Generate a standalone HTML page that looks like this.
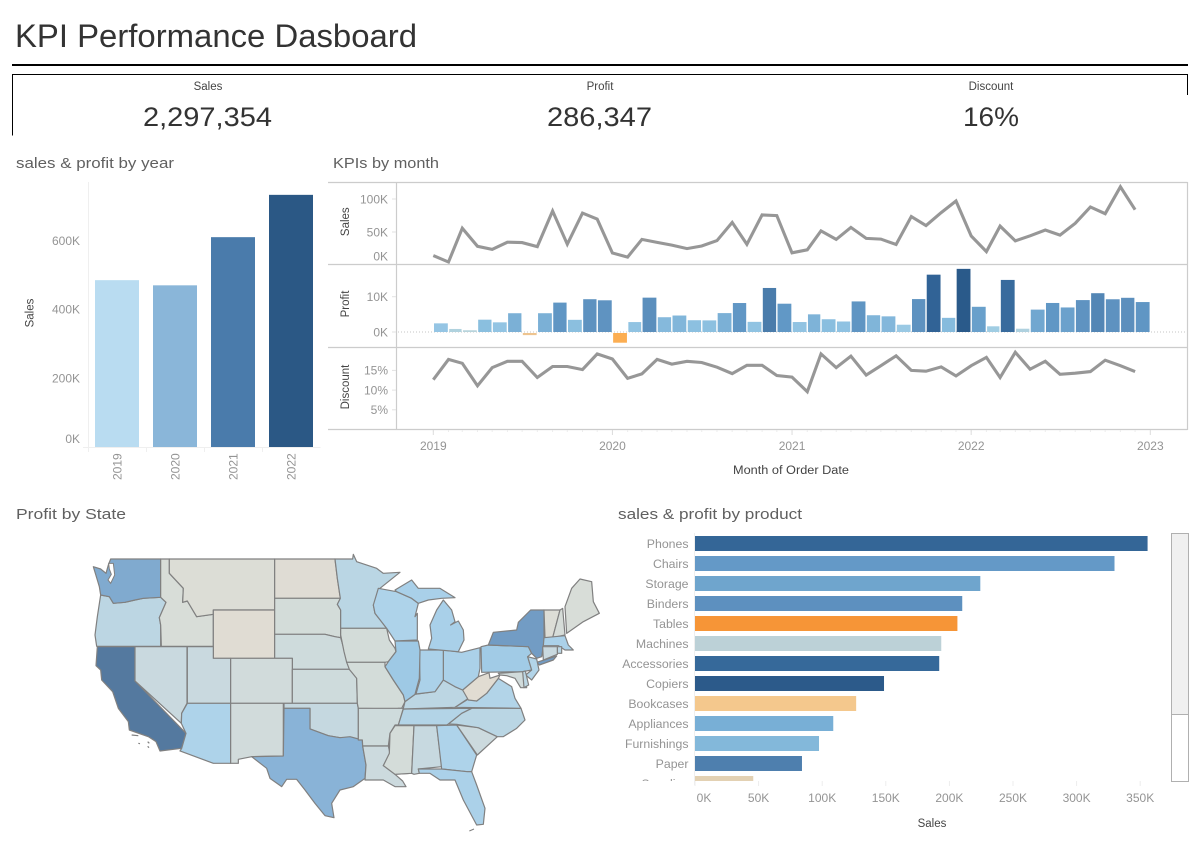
<!DOCTYPE html>
<html lang="en">
<head>
<meta charset="utf-8">
<title>KPI Performance Dasboard</title>
<style>
html,body{margin:0;padding:0;background:#fff;}
svg{display:block;font-family:"Liberation Sans",sans-serif;}
</style>
</head>
<body>
<svg id="dash" xmlns="http://www.w3.org/2000/svg" width="1199" height="849" viewBox="0 0 1199 849">
  <rect x="0" y="0" width="1199" height="849" fill="#fff"/>
  <text x="15" y="47" font-size="32" fill="#333" textLength="402" lengthAdjust="spacingAndGlyphs">KPI Performance Dasboard</text>
  <rect x="12" y="64" width="1176" height="2" fill="#000"/>
  <path d="M12.5 135.5V74.5H1187.5V95" fill="none" stroke="#000" stroke-width="1"/>
  <text x="208" y="90" font-size="11.5" fill="#444" text-anchor="middle">Sales</text>
  <text x="143" y="126" font-size="27" fill="#333" textLength="129" lengthAdjust="spacingAndGlyphs">2,297,354</text>
  <text x="600" y="90" font-size="11.5" fill="#444" text-anchor="middle">Profit</text>
  <text x="547" y="126" font-size="27" fill="#333" textLength="105" lengthAdjust="spacingAndGlyphs">286,347</text>
  <text x="991" y="90" font-size="11.5" fill="#444" text-anchor="middle">Discount</text>
  <text x="963" y="126" font-size="27" fill="#333" textLength="56" lengthAdjust="spacingAndGlyphs">16%</text>

  <text x="16" y="168" font-size="15" fill="#606060" textLength="158" lengthAdjust="spacingAndGlyphs">sales &amp; profit by year</text>
  <text x="333" y="168" font-size="15" fill="#606060" textLength="106" lengthAdjust="spacingAndGlyphs">KPIs by month</text>
  <text x="16" y="519" font-size="15" fill="#606060" textLength="110" lengthAdjust="spacingAndGlyphs">Profit by State</text>
  <text x="618" y="519" font-size="15" fill="#606060" textLength="184" lengthAdjust="spacingAndGlyphs">sales &amp; profit by product</text>

  <g id="year-chart"></g>
  <g id="month-chart"></g>
  <g id="map-chart"></g>
  <defs><clipPath id="product-clip"><rect x="610" y="530" width="555" height="251"/></clipPath></defs>
  <g id="product-chart"></g>

  <rect x="1171.5" y="533.5" width="17" height="248" fill="#fff" stroke="#b0b0b0"/>
  <rect x="1171.5" y="533.5" width="17" height="181" fill="#f0f0f0" stroke="#b0b0b0"/>
</svg>

<script>
// ---------- year chart data ----------
const yearCategories = ['2019','2020','2021','2022'];
const yearSales = [485000,470000,610000,733000];
const yearProfit = [49543,61618,81795,93439];
const yearTicks = [0,200000,400000,600000];
const yearTickLabels = ['0K','200K','400K','600K'];

// ---------- monthly chart data ----------
const months = ['2019-01','2019-02','2019-03','2019-04','2019-05','2019-06','2019-07','2019-08','2019-09','2019-10','2019-11','2019-12',
  '2020-01','2020-02','2020-03','2020-04','2020-05','2020-06','2020-07','2020-08','2020-09','2020-10','2020-11','2020-12',
  '2021-01','2021-02','2021-03','2021-04','2021-05','2021-06','2021-07','2021-08','2021-09','2021-10','2021-11','2021-12',
  '2022-01','2022-02','2022-03','2022-04','2022-05','2022-06','2022-07','2022-08','2022-09','2022-10','2022-11','2022-12'];
const monthSales = [14236,4520,55691,28295,23648,34595,33946,27909,81777,31453,78628,69545,
  18174,11951,38726,34195,30132,24797,28765,36898,64595,31404,75972,74919,
  18542,22979,51716,38750,56987,40344,39262,31115,73410,59688,79412,96999,
  43971,20301,58872,36522,44261,52982,45264,63121,87867,77777,118448,83829];
const monthProfit = [2450,862,499,3489,2739,5317,-600,5318,8328,3448,9292,8983,
  -2750,2813,9732,4187,4668,3336,3289,5355,8210,2877,12474,8016,
  2824,5004,3612,2978,8662,4750,4433,2063,9328,16243,4011,17885,
  7140,1613,14752,933,6342,8223,6953,9041,10991,9275,9690,8483];
const monthDiscount = [12.65,17.8,16.8,11.1,15.7,17.3,17.3,13.2,16.0,16.0,15.2,19.2,
  17.9,13.0,14.1,17.8,16.6,17.3,17.0,15.8,14.2,16.3,16.3,13.7,
  13.3,9.6,19.2,15.7,18.6,13.8,16.2,18.7,15.0,14.8,15.9,13.6,
  16.2,18.3,13.2,19.6,15.3,17.3,14.0,14.3,14.7,17.6,16.2,14.7];
const salesTicks = [0,50000,100000];
const salesTickLabels = ['0K','50K','100K'];
const profitTicks = [0,10000];
const profitTickLabels = ['0K','10K'];
const discountTicks = [5,10,15];
const discountTickLabels = ['5%','10%','15%'];
const timeTickYears = ['2019','2020','2021','2022','2023'];

// ---------- product chart data ----------
const productCategories = ['Phones','Chairs','Storage','Binders','Tables','Machines','Accessories','Copiers','Bookcases','Appliances','Furnishings','Paper','Supplies'];
const productSales = [355800,329800,224300,210100,206300,193600,192000,148600,126700,108700,97500,84100,45800];
const productProfit = [44516,26590,21279,30221,-17725,3385,41937,55618,-3473,18138,13059,34054,-1189];
const productTicks = [0,50000,100000,150000,200000,250000,300000,350000];
const productTickLabels = ['0K','50K','100K','150K','200K','250K','300K','350K'];

// ---------- map data ----------
const stateProfit = {WA:33000,OR:6000,CA:76000,NV:3000,ID:600,MT:200,WY:-300,ND:-200,SD:1000,NE:2000,UT:3000,CO:1500,AZ:10000,NM:1500,KS:2000,OK:4000,TX:25000,
  MN:6500,IA:1000,MO:1000,AR:2000,LA:2500,MS:900,AL:3500,GA:10000,FL:11000,SC:2500,NC:6500,TN:8500,KY:6000,VA:9000,WV:-500,OH:11000,IN:11000,IL:15000,WI:10000,MI:11500,PA:14000,NY:45000,NJ:9000,MD:1500,DE:6000,VT:200,NH:700,ME:600,MA:11000,RI:6000,CT:3000};
const westShapes = {
 OR:'62,150 88,155 100,175 135,172 165,165 190,160 242,157 258,172 238,218 242,240 242,304 50,304 45,270 52,215',
 WA:'92,42 242,42 242,157 190,160 165,165 135,172 100,175 88,155 62,150 58,125 52,105 40,65 62,72 78,85 85,60',
 CA:'52,305 165,305 165,408 318,565 305,610 240,618 228,590 205,575 148,555 145,530 115,490 98,440 65,405 62,375 48,362',
 NV:'165,305 321,305 321,475 305,505 304,535 165,408',
 ID:'242,42 268,42 268,85 310,130 308,172 322,168 350,215 400,208 400,304 244,304 242,240 238,218 258,172 242,157',
 MT:'268,42 584,42 584,195 400,195 400,208 350,215 322,168 308,172 310,130 268,85',
 WY:'400,195 584,195 584,340 400,340',
 ND:'584,42 765,42 772,100 781,160 584,160',
 SD:'584,160 781,160 772,178 782,195 782,278 765,275 735,268 584,268',
 NE:'584,268 735,268 765,275 782,278 800,340 808,373 637,373 637,340 584,340',
 UT:'322,305 400,305 400,340 452,340 452,475 322,475',
 CO:'452,340 637,340 637,475 452,475',
 AZ:'322,475 452,475 452,655 400,655 300,618 305,610 318,565 304,535 305,505',
 NM:'452,475 610,475 610,633 515,635 475,643 475,655 452,655',
 KS:'637,373 808,373 830,395 832,475 637,475',
 OK:'612,475 832,475 835,490 835,590 810,578 780,578 745,572 690,552 690,490 612,490',
 TX:'612,490 690,490 690,552 745,572 780,578 810,575 847,585 848,603 858,660 855,700 820,725 780,735 755,775 762,818 735,812 705,775 675,735 650,703 620,703 605,725 570,700 560,670 515,635 610,633'
};
const eastShapes = {
 MN:'-15,42 38,42 40,28 50,50 110,70 130,85 180,82 120,130 115,155 100,180 105,205 140,250 2,250 2,195 -8,178 1,160 -8,100',
 IA:'2,250 140,250 148,285 165,310 168,320 145,350 135,352 20,352 12,320 2,270',
 MO:'20,352 135,352 135,365 160,405 190,450 195,470 185,490 175,490 170,492 55,490 52,475 50,400 28,373',
 AR:'55,490 190,490 175,540 165,540 150,565 145,603 68,603 67,585 55,585',
 LA:'68,603 145,603 150,625 130,662 215,660 215,685 165,688 188,708 198,725 165,725 130,705 75,705 78,660',
 MS:'165,542 222,542 215,685 165,688 130,662 148,625 150,565',
 AL:'222,542 290,542 305,665 235,672 238,685 222,688 215,685',
 GA:'290,542 350,540 410,630 395,680 382,680 305,672',
 FL:'235,672 305,672 382,680 395,680 410,720 435,790 430,838 410,840 370,765 345,705 300,705 270,685 238,685',
 SC:'350,540 415,548 472,575 412,630',
 NC:'325,537 365,505 395,490 543,490 555,525 530,550 490,575 472,575 415,548 350,538',
 TN:'175,540 190,492 395,490 365,505 325,537 320,540',
 KY:'190,490 195,470 225,448 285,440 310,405 345,425 368,435 385,460 345,487 190,492',
 VA:'345,487 385,462 410,468 440,445 475,400 515,425 525,460 543,490',
 WV:'368,435 415,395 447,383 450,400 480,390 475,400 440,445 410,468 385,465',
 OH:'310,315 365,322 420,308 420,370 415,395 368,435 345,425 310,405',
 IN:'238,315 310,315 310,405 285,440 228,447 240,405',
 IL:'165,288 235,288 240,315 238,400 225,448 195,470 190,450 160,405 135,365 145,350 168,320',
 WI:'115,130 170,140 215,160 235,175 225,215 232,205 232,285 165,288 140,250 105,205 100,180',
 MI:'165,135 215,105 235,130 270,130 300,130 345,158 305,160 265,165 235,175 215,160 170,140',
 MI2:'265,312 275,280 270,240 290,195 310,165 335,195 345,230 332,240 355,228 370,255 372,285 355,320',
 PA:'423,305 445,300 565,305 575,325 563,335 575,375 548,380 425,382',
 NY:'445,300 460,262 530,255 535,232 572,195 612,195 612,290 605,335 590,340 575,325 565,305',
 NY2:'590,352 650,333 640,345 598,360',
 NJ:'563,335 590,342 597,375 575,405 557,390 575,375',
 MD:'475,385 548,380 560,428 542,428 525,400 500,392 480,390',
 DE:'548,380 556,378 566,420 552,428',
 VT:'612,195 660,195 638,278 615,278',
 NH:'660,195 668,190 675,270 638,278',
 ME:'675,185 695,130 720,102 755,110 760,170 778,205 730,230 680,265',
 MA:'612,278 675,272 685,300 700,315 675,315 655,302 610,302',
 RI:'652,305 665,305 665,325 652,325',
 CT:'608,305 652,305 652,328 610,345'
};
const stateNames = {WA:'washington',OR:'oregon',CA:'california',NV:'nevada',ID:'idaho',MT:'montana',WY:'wyoming',ND:'north-dakota',SD:'south-dakota',NE:'nebraska',UT:'utah',CO:'colorado',AZ:'arizona',NM:'new-mexico',KS:'kansas',OK:'oklahoma',TX:'texas',
 MN:'minnesota',IA:'iowa',MO:'missouri',AR:'arkansas',LA:'louisiana',MS:'mississippi',AL:'alabama',GA:'georgia',FL:'florida',SC:'south-carolina',NC:'north-carolina',TN:'tennessee',KY:'kentucky',VA:'virginia',WV:'west-virginia',OH:'ohio',IN:'indiana',IL:'illinois',WI:'wisconsin',MI:'michigan',PA:'pennsylvania',NY:'new-york',NJ:'new-jersey',MD:'maryland',DE:'delaware',VT:'vermont',NH:'new-hampshire',ME:'maine',MA:'massachusetts',RI:'rhode-island',CT:'connecticut'};

// ---------- helpers ----------
const NS = 'http://www.w3.org/2000/svg';
function mk(parent, tag, attrs, txt) {
  const el = document.createElementNS(NS, tag);
  for (const k in attrs) el.setAttribute(k, attrs[k]);
  if (txt !== undefined) el.textContent = txt;
  parent.appendChild(el);
  return el;
}
function hex(c){return [parseInt(c.slice(1,3),16),parseInt(c.slice(3,5),16),parseInt(c.slice(5,7),16)];}
function colorScale(stops){
  return function(v){
    if (v <= stops[0][0]) return stops[0][1];
    for (let i=1;i<stops.length;i++){
      if (v <= stops[i][0]){
        const t=(v-stops[i-1][0])/(stops[i][0]-stops[i-1][0]);
        const a=hex(stops[i-1][1]), b=hex(stops[i][1]);
        return 'rgb('+a.map((p,j)=>Math.round(p+(b[j]-p)*t)).join(',')+')';
      }
    }
    return stops[stops.length-1][1];
  };
}
const TICK_COLOR='#949494', AXIS_TITLE='#444';

// ---------- year chart ----------
(function(){
  const g=document.getElementById('year-chart');
  const y=v=>447-v*68.8/200000;
  const yearColor=colorScale([[49543,'#b9dcf1'],[61618,'#8ab6d9'],[81795,'#4a7bab'],[93439,'#2b5885']]);
  const bandX=i=>88.5+58*i;
  const yAxis=mk(g,'line',{x1:88.5,x2:88.5,y1:182,y2:447,stroke:'#efefef'});
  
  
  const xAxis=mk(g,'line',{x1:83,x2:320.5,y1:447.5,y2:447.5,stroke:'#efefef'});
  
  
  yearTicks.forEach((t,i)=>{
    const lab=mk(g,'text',{x:80,y:t===0?443:y(t)+4.3,'font-size':12,fill:TICK_COLOR,'text-anchor':'end'},yearTickLabels[i]);
    
    
  });
  yearCategories.forEach((c,i)=>{
    const bar=mk(g,'rect',{x:bandX(i)+6.5,y:y(yearSales[i]),width:44,height:447-y(yearSales[i]),fill:yearColor(yearProfit[i])});
    
    
    const tick=mk(g,'line',{x1:bandX(i),x2:bandX(i),y1:447,y2:452,stroke:'#efefef'});
    
    
    const cx=bandX(i)+28.5;
    const lab=mk(g,'text',{x:cx+4.3,y:480,'font-size':12,fill:TICK_COLOR,transform:'rotate(-90 '+(cx+4.3)+' 480)'},c);
    
    
  });
  const title=mk(g,'text',{x:33.5,y:313,'font-size':11.5,fill:AXIS_TITLE,'text-anchor':'middle',transform:'rotate(-90 33.5 313)'},'Sales');
  
  
})();

// ---------- monthly chart ----------
(function(){
  const g=document.getElementById('month-chart');
  const t0=Date.UTC(2019,0,1), pxPerMs=(1150.3-433.3)/(Date.UTC(2023,0,1)-t0);
  const xd=ms=>433.3+(ms-t0)*pxPerMs;
  const parse=s=>{const p=s.split('-');return [+p[0],+p[1]-1];};
  const xm=s=>{const p=parse(s);return xd(Date.UTC(p[0],p[1],1));};
  const xnext=s=>{const p=parse(s);return xd(Date.UTC(p[0],p[1]+1,1));};
  const ySales=v=>265-v*33/50000;
  const yProfit=v=>332-v*35.3/10000;
  const yDisc=v=>429.5-v*3.94;
  const profitColor=colorScale([[-2750,'#fcae52'],[-600,'#eec48f'],[500,'#b8d4dc'],[1600,'#a0cde3'],[2500,'#94c5e4'],[3300,'#8cc0e0'],[5000,'#7eb3d8'],[8000,'#6198c6'],[9300,'#5e92c0'],[12474,'#4a7cab'],[14752,'#386b9d'],[16243,'#316396'],[17885,'#2a5a8a']]);

  // frame
  [182.5,264.5,347.5,429.5].forEach(yy=>{
    const l=mk(g,'line',{x1:328,x2:1187.5,y1:yy,y2:yy,stroke:'#cccccc','stroke-width':1.2});
    
    
  });
  const la=mk(g,'line',{x1:396.5,x2:396.5,y1:182,y2:430,stroke:'#cccccc','stroke-width':1.2});
  
  
  const ra=mk(g,'line',{x1:1187.5,x2:1187.5,y1:182,y2:430,stroke:'#cccccc','stroke-width':1.2});
  
  

  // zero reference
  const zero=mk(g,'line',{x1:398,x2:1187,y1:332,y2:332,stroke:'#c4c4c4','stroke-dasharray':'1 2'});
  
  

  // axis ticks + labels
  function yTicks(ticks,labels,scale,prefix,fix){
    ticks.forEach((t,i)=>{
      const yy=scale(t);
      if (prefix!=='sales' || t>0){
        const tk=mk(g,'line',{x1:392,x2:396,y1:yy,y2:yy,stroke:'#e2e2e2'});
        
        
      }
      const ly=(fix && t===0)?fix:yy;
      const lab=mk(g,'text',{x:388,y:ly+4.3,'font-size':12,fill:TICK_COLOR,'text-anchor':'end'},labels[i]);
      
      
    });
  }
  yTicks(salesTicks,salesTickLabels,ySales,'sales',256);
  yTicks(profitTicks,profitTickLabels,yProfit,'profit');
  yTicks(discountTicks,discountTickLabels,yDisc,'discount');

  // axis titles
  [['Sales',221.7,'sales'],['Profit',304,'profit'],['Discount',387,'discount']].forEach(a=>{
    const t=mk(g,'text',{x:349,y:a[1],'font-size':11.5,fill:AXIS_TITLE,'text-anchor':'middle',transform:'rotate(-90 349 '+a[1]+')'},a[0]);
    
    
  });

  // profit bars
  months.forEach((m,i)=>{
    const x0=xm(m)+0.7, x1=xnext(m)-0.7, v=monthProfit[i];
    const y0=Math.min(yProfit(v),yProfit(0)), h=Math.abs(yProfit(v)-yProfit(0));
    const b=mk(g,'rect',{x:x0,y:v<0?y0+1:y0,width:x1-x0,height:h,fill:profitColor(v)});
    
    
  });

  // lines
  const sPts=months.map((m,i)=>xm(m).toFixed(1)+','+ySales(monthSales[i]).toFixed(1)).join(' ');
  const sl=mk(g,'polyline',{points:sPts,fill:'none',stroke:'#979797','stroke-width':3.1,'stroke-linejoin':'miter'});
  
  
  const dPts=months.map((m,i)=>xm(m).toFixed(1)+','+yDisc(monthDiscount[i]).toFixed(1)).join(' ');
  const dl=mk(g,'polyline',{points:dPts,fill:'none',stroke:'#979797','stroke-width':3.1,'stroke-linejoin':'miter'});
  
  

  // time ticks
  months.forEach(m=>{
    const xx=xm(m);
    const tk=mk(g,'line',{x1:xx,x2:xx,y1:430,y2:432,stroke:'#ececec'});
    
    
  });
  timeTickYears.forEach(yr=>{
    const xx=xd(Date.UTC(+yr,0,1));
    const tk=mk(g,'line',{x1:xx,x2:xx,y1:430,y2:435,stroke:'#dcdcdc'});
    
    
    const lab=mk(g,'text',{x:xx,y:450,'font-size':12,fill:TICK_COLOR,'text-anchor':'middle'},yr);
    
    
  });
  const xt=mk(g,'text',{x:791,y:474,'font-size':11.5,fill:AXIS_TITLE,'text-anchor':'middle',textLength:116,lengthAdjust:'spacingAndGlyphs'},'Month of Order Date');
  
  
})();

// ---------- map ----------
(function(){
  const g=document.getElementById('map-chart');
  const stateColor=colorScale([[-500,'#e1dcd2'],[200,'#dcddd6'],[1000,'#d3dcd9'],[3000,'#c9d9df'],[6000,'#bcd6e3'],[10000,'#aed3ea'],[15000,'#9ec9e5'],[25000,'#89b3d7'],[45000,'#729cc4'],[76000,'#54799f']]);
  function group(tx,shapes,name){
    const gg=mk(g,'g',{transform:'translate('+tx+' 545) scale(0.33333)'});
    
    
    for (const key in shapes){
      const code=key.slice(0,2);
      const p=mk(gg,'polygon',{points:shapes[key],fill:stateColor(stateProfit[code]),stroke:'#808080','stroke-width':1.2,'vector-effect':'non-scaling-stroke','stroke-linejoin':'round'});
      
      
    }
    return gg;
  }
  const w=group(80,westShapes,'western-states');
  const e=group(340,eastShapes,'eastern-states');
  const sound=mk(w,'path',{d:'M86 55L100 55L104 90L92 115L84 105L94 88L88 72Z',fill:'#fff',stroke:'#808080','stroke-width':1,'vector-effect':'non-scaling-stroke'});
  
  
  const islands=mk(w,'path',{d:'M155 570L175 572M175 595L180 596M203 590L208 595M203 604L207 608',fill:'none',stroke:'#808080','stroke-width':1.2,'vector-effect':'non-scaling-stroke'});
  
  
  const keys=mk(e,'path',{d:'M388 858L402 852',fill:'none',stroke:'#808080','stroke-width':1,'vector-effect':'non-scaling-stroke'});
  
  
})();

// ---------- product chart ----------
(function(){
  const g=document.getElementById('product-chart');
  const x=v=>695+v*1.272/1000;
  const productColor=colorScale([[-17725,'#f69537'],[-3473,'#f4c88d'],[-1189,'#e3d1b3'],[3385,'#bcd1d7'],[13059,'#83b8da'],[18138,'#78afd6'],[21279,'#6fa5cd'],[26590,'#6499c7'],[30221,'#5d90bf'],[34054,'#4e7fae'],[41937,'#36699a'],[55618,'#2c5a8a']]);
  const rows=mk(g,'g',{'clip-path':'url(#product-clip)'});
  
  
  const al=mk(g,'line',{x1:694.5,x2:694.5,y1:533,y2:785,stroke:'#efefef'});
  
  
  productCategories.forEach((c,i)=>{
    const top=536+20*i;
    const b=mk(rows,'rect',{x:695,y:top,width:x(productSales[i])-695,height:15,fill:productColor(productProfit[i])});
    
    
    const l=mk(rows,'text',{x:688.5,y:top+12,'font-size':12.3,fill:TICK_COLOR,'text-anchor':'end'},c);
    
    
  });
  productTicks.forEach((t,i)=>{
    const xx=x(t);
    const tk=mk(g,'line',{x1:xx,x2:xx,y1:781,y2:786,stroke:'#ececec'});
    
    
    const lab=mk(g,'text',{x:t===0?xx+9:xx,y:802,'font-size':12,fill:TICK_COLOR,'text-anchor':'middle'},productTickLabels[i]);
    
    
  });
  const xt=mk(g,'text',{x:932,y:827,'font-size':11.5,fill:AXIS_TITLE,'text-anchor':'middle'},'Sales');
  
  
})();
</script>
</body>
</html>
